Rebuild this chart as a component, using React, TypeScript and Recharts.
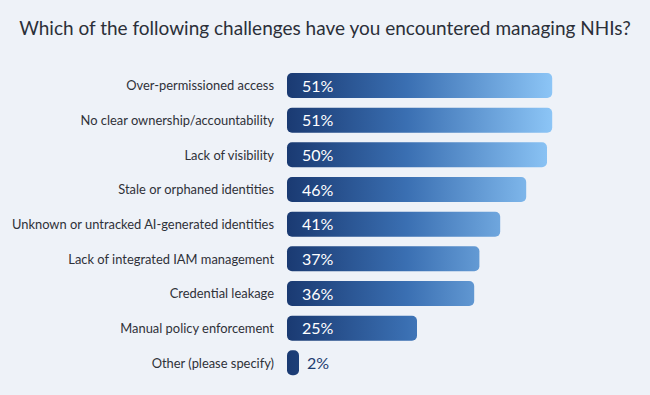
import React from "react";
import { BarChart, Bar, XAxis, YAxis, LabelList } from "recharts";

const categories = [
  "Over-permissioned access",
  "No clear ownership/accountability",
  "Lack of visibility",
  "Stale or orphaned identities",
  "Unknown or untracked AI-generated identities",
  "Lack of integrated IAM management",
  "Credential leakage",
  "Manual policy enforcement",
  "Other (please specify)",
];
const values = [51, 51, 50, 46, 41, 37, 36, 25, 2];

const data = categories.map((c, i) => ({ name: c, value: values[i] }));

const FONT = "Lato, 'Open Sans', sans-serif";

const renderLabel = (props: any) => {
  const { x, y, width, height, value } = props;
  const inside = value >= 10;
  return (
    <text
      x={inside ? x + 15 : x + width + 8}
      y={y + height / 2}
      dy={6}
      fill={inside ? "#ffffff" : "#1d3c70"}
      fontSize={16}
      fontFamily={FONT}
      textAnchor="start"
    >
      {value}%
    </text>
  );
};

const renderTick = (props: any) => {
  const { x, y, payload } = props;
  return (
    <text
      x={x}
      y={y}
      dy={5}
      textAnchor="end"
      fill="#2e3138"
      fontSize={12.9}
      fontFamily={FONT}
    >
      {payload.value}
    </text>
  );
};

export default function App() {
  return (
    <div
      style={{
        position: "absolute",
        left: 0,
        top: 0,
        width: 650,
        height: 395,
        background: "#eef2f8",
        overflow: "hidden",
      }}
    >
      <div
        style={{
          position: "absolute",
          top: 16,
          left: 0,
          width: 650,
          textAlign: "center",
          fontFamily: FONT,
          fontSize: 19,
          color: "#2b2f38",
        }}
      >
        Which of the following challenges have you encountered managing NHIs?
      </div>
      <BarChart
        width={650}
        height={395}
        data={data}
        layout="vertical"
        margin={{ top: 68, right: 51, bottom: 15, left: 0 }}
        barCategoryGap={0}
      >
        <defs>
          <linearGradient
            id="barGrad"
            gradientUnits="userSpaceOnUse"
            x1={287}
            y1={0}
            x2={552}
            y2={0}
          >
            <stop offset="0%" stopColor="#1a3a72" />
            <stop offset="45%" stopColor="#3a6fb2" />
            <stop offset="100%" stopColor="#8cc5f6" />
          </linearGradient>
        </defs>
        <XAxis type="number" domain={[0, 60]} hide />
        <YAxis
          type="category"
          dataKey="name"
          width={287}
          axisLine={false}
          tickLine={false}
          tickMargin={7}
          tick={renderTick}
          interval={0}
        />
        <Bar
          dataKey="value"
          fill="url(#barGrad)"
          barSize={25}
          radius={5}
          minPointSize={12}
          isAnimationActive={false}
        >
          <LabelList dataKey="value" content={renderLabel} />
        </Bar>
      </BarChart>
    </div>
  );
}
